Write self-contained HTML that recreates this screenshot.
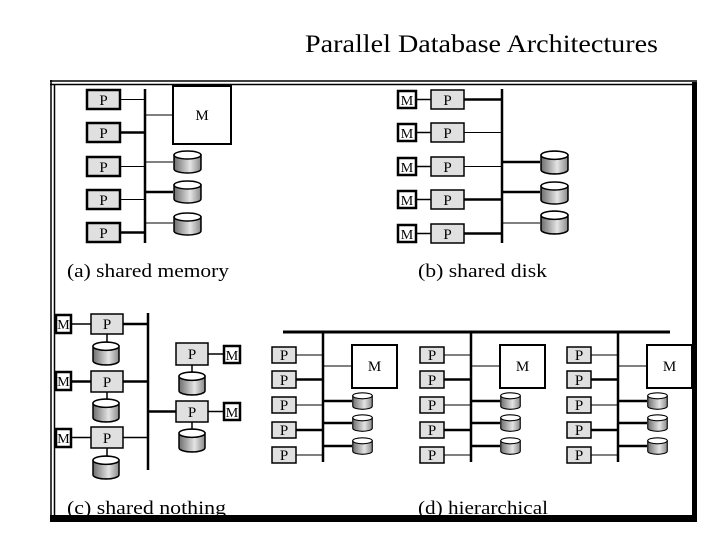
<!DOCTYPE html>
<html><head><meta charset="utf-8"><style>
html,body{margin:0;padding:0;background:#fff;}
svg{display:block;}
text{font-family:"Liberation Serif",serif;}
</style></head><body>
<svg width="720" height="540" viewBox="0 0 720 540" xmlns="http://www.w3.org/2000/svg">
<defs>
<linearGradient id="g" x1="0" x2="1" y1="0" y2="0">
<stop offset="0" stop-color="#6e6e6e"/><stop offset="0.6" stop-color="#e4e4e4"/><stop offset="1" stop-color="#8a8a8a"/>
</linearGradient>
<symbol id="cyl" viewBox="0 0 28 24" preserveAspectRatio="none">
<path d="M1,5 V19 A13,4 0 0 0 27,19 V5 Z" fill="url(#g)" stroke="#000" stroke-width="1.5"/>
<ellipse cx="14" cy="5" rx="13" ry="4" fill="#fff" stroke="#000" stroke-width="1.5"/>
</symbol>
</defs>
<text x="305" y="52" font-size="25" textLength="353" lengthAdjust="spacingAndGlyphs">Parallel Database Architectures</text>
<!-- frame -->
<g stroke="#000" fill="none">
<line x1="50" y1="81" x2="697" y2="81" stroke-width="1.5"/>
<line x1="50" y1="84.5" x2="697" y2="84.5" stroke-width="1.5"/>
<line x1="51" y1="80" x2="51" y2="522" stroke-width="1.5"/>
<line x1="54.5" y1="84" x2="54.5" y2="516" stroke-width="1.5"/>
</g>
<rect x="50" y="515" width="647" height="7" fill="#000"/>

<g stroke="#000" font-size="15" text-anchor="middle">
<!-- (a) -->
<line x1="145" y1="89" x2="145" y2="243" stroke-width="2.5"/>
<g fill="#e0e0e0" stroke-width="2.5">
<rect x="87" y="90" width="33" height="19"/><rect x="87" y="123" width="33" height="19"/><rect x="87" y="157" width="33" height="19"/><rect x="87" y="190" width="33" height="19"/><rect x="87" y="223" width="33" height="19"/>
</g>
<line x1="120" y1="99.5" x2="145" y2="99.5" stroke-width="1"/>
<line x1="120" y1="132.5" x2="145" y2="132.5" stroke-width="2.5"/>
<line x1="120" y1="166.5" x2="145" y2="166.5" stroke-width="1"/>
<line x1="120" y1="199.5" x2="145" y2="199.5" stroke-width="1"/>
<line x1="120" y1="232.5" x2="145" y2="232.5" stroke-width="2.5"/>
<rect x="173" y="86" width="58" height="58" fill="#fff" stroke-width="2"/>
<line x1="145" y1="115" x2="173" y2="115" stroke-width="1"/>
<line x1="145" y1="162" x2="173" y2="162" stroke-width="1"/>
<line x1="145" y1="192" x2="173" y2="192" stroke-width="2.5"/>
<line x1="145" y1="223" x2="173" y2="223" stroke-width="1"/>
<use href="#cyl" x="173" y="150" width="29" height="24"/>
<use href="#cyl" x="173" y="180" width="29" height="24"/>
<use href="#cyl" x="173" y="212" width="29" height="24"/>
<g stroke="none" fill="#000">
<text x="103.5" y="105">P</text><text x="103.5" y="138">P</text><text x="103.5" y="172">P</text><text x="103.5" y="205">P</text><text x="103.5" y="238">P</text>
<text x="202" y="120">M</text>
</g>

<!-- (b) -->
<line x1="502" y1="89" x2="502" y2="243" stroke-width="2.5"/>
<g fill="#fff" stroke-width="2.5">
<rect x="398" y="91" width="18" height="17"/><rect x="398" y="124" width="18" height="17"/><rect x="398" y="158" width="18" height="17"/><rect x="398" y="191" width="18" height="17"/><rect x="398" y="225" width="18" height="17"/>
</g>
<g stroke-width="1.5">
<line x1="416" y1="99.5" x2="431" y2="99.5"/><line x1="416" y1="132.5" x2="431" y2="132.5"/><line x1="416" y1="166.5" x2="431" y2="166.5"/><line x1="416" y1="199.5" x2="431" y2="199.5"/><line x1="416" y1="233.5" x2="431" y2="233.5"/>
</g>
<g fill="#e0e0e0" stroke-width="1.5">
<rect x="431" y="90" width="33" height="19"/><rect x="431" y="123" width="33" height="19"/><rect x="431" y="157" width="33" height="19"/><rect x="431" y="190" width="33" height="19"/><rect x="431" y="224" width="33" height="19"/>
</g>
<line x1="464" y1="99.5" x2="502" y2="99.5" stroke-width="2.5"/>
<line x1="464" y1="132.5" x2="502" y2="132.5" stroke-width="1"/>
<line x1="464" y1="166.5" x2="502" y2="166.5" stroke-width="1"/>
<line x1="464" y1="199.5" x2="502" y2="199.5" stroke-width="2.5"/>
<line x1="464" y1="233.5" x2="502" y2="233.5" stroke-width="2.5"/>
<line x1="502" y1="162" x2="540" y2="162" stroke-width="2.5"/>
<line x1="502" y1="192" x2="540" y2="192" stroke-width="2.5"/>
<line x1="502" y1="223" x2="540" y2="223" stroke-width="1"/>
<use href="#cyl" x="540" y="150" width="29" height="25"/>
<use href="#cyl" x="540" y="181" width="29" height="24"/>
<use href="#cyl" x="540" y="210" width="29" height="25"/>
<g stroke="none" fill="#000">
<text x="407" y="105" font-size="14">M</text><text x="407" y="138" font-size="14">M</text><text x="407" y="172" font-size="14">M</text><text x="407" y="205" font-size="14">M</text><text x="407" y="239" font-size="14">M</text>
<text x="447.5" y="105">P</text><text x="447.5" y="138">P</text><text x="447.5" y="172">P</text><text x="447.5" y="205">P</text><text x="447.5" y="239">P</text>
</g>

<!-- (c) -->
<line x1="148" y1="313" x2="148" y2="470" stroke-width="2.5"/>
<g stroke-width="1.5">
<line x1="71" y1="324" x2="91" y2="324"/><line x1="71" y1="381.5" x2="91" y2="381.5" stroke-width="2.5"/><line x1="71" y1="437.5" x2="91" y2="437.5"/>
<line x1="107" y1="334" x2="107" y2="343"/><line x1="107" y1="392" x2="107" y2="400"/><line x1="107" y1="448" x2="107" y2="457"/>
<line x1="192" y1="365" x2="192" y2="373"/><line x1="192" y1="422" x2="192" y2="430"/>
<line x1="208" y1="354" x2="224" y2="354"/><line x1="208" y1="411.5" x2="224" y2="411.5"/>
</g>
<line x1="123" y1="324" x2="148" y2="324" stroke-width="2.5"/>
<line x1="123" y1="381.5" x2="148" y2="381.5" stroke-width="2.5"/>
<line x1="123" y1="437.5" x2="148" y2="437.5" stroke-width="1.5"/>
<line x1="148" y1="411.5" x2="176" y2="411.5" stroke-width="2.5"/>
<g fill="#fff" stroke-width="2.5">
<rect x="56" y="315" width="15" height="18"/><rect x="56" y="372" width="15" height="18"/><rect x="56" y="429" width="15" height="18"/>
<rect x="224" y="346" width="16" height="17"/><rect x="224" y="403" width="16" height="17"/>
</g>
<g fill="#e0e0e0" stroke-width="1.5">
<rect x="91" y="314" width="32" height="20"/><rect x="91" y="371" width="32" height="21"/><rect x="91" y="427" width="32" height="21"/>
<rect x="176" y="343" width="32" height="22"/><rect x="176" y="401" width="32" height="21"/>
</g>
<use href="#cyl" x="92" y="341" width="28" height="25"/>
<use href="#cyl" x="92" y="398" width="28" height="25"/>
<use href="#cyl" x="92" y="455" width="28" height="25"/>
<use href="#cyl" x="178" y="371" width="28" height="25"/>
<use href="#cyl" x="178" y="428" width="28" height="25"/>
<g stroke="none" fill="#000">
<text x="63.5" y="329" font-size="14">M</text><text x="63.5" y="386" font-size="14">M</text><text x="63.5" y="443" font-size="14">M</text>
<text x="232" y="360" font-size="14">M</text><text x="232" y="417" font-size="14">M</text>
<text x="107" y="329">P</text><text x="107" y="387">P</text><text x="107" y="443">P</text>
<text x="192" y="359">P</text><text x="192" y="417">P</text>
</g>

<!-- (d) -->
<line x1="283" y1="332" x2="670" y2="332" stroke-width="3"/>
<g id="grp">
<line x1="323" y1="332" x2="323" y2="462" stroke-width="2.5"/>
<g fill="#e0e0e0" stroke-width="1.5">
<rect x="272" y="347" width="24" height="16"/><rect x="272" y="371" width="24" height="17"/><rect x="272" y="397" width="24" height="16"/><rect x="272" y="422" width="24" height="16"/><rect x="272" y="447" width="24" height="16"/>
</g>
<line x1="296" y1="355" x2="323" y2="355" stroke-width="1"/>
<line x1="296" y1="379.5" x2="323" y2="379.5" stroke-width="2.5"/>
<line x1="296" y1="405" x2="323" y2="405" stroke-width="1"/>
<line x1="296" y1="430" x2="323" y2="430" stroke-width="2.5"/>
<line x1="296" y1="455" x2="323" y2="455" stroke-width="1"/>
<rect x="352" y="345" width="45" height="43" fill="#fff" stroke-width="2"/>
<line x1="323" y1="366" x2="352" y2="366" stroke-width="1"/>
<line x1="323" y1="401" x2="352" y2="401" stroke-width="2.5"/>
<line x1="323" y1="423" x2="352" y2="423" stroke-width="2.5"/>
<line x1="323" y1="446" x2="352" y2="446" stroke-width="2.5"/>
<use href="#cyl" x="352" y="392" width="21" height="18"/>
<use href="#cyl" x="352" y="414" width="21" height="18"/>
<use href="#cyl" x="352" y="437" width="21" height="18"/>
<g stroke="none" fill="#000">
<text x="284" y="360">P</text><text x="284" y="385">P</text><text x="284" y="410">P</text><text x="284" y="435">P</text><text x="284" y="460">P</text>
<text x="374.5" y="371">M</text>
</g>
</g>
<use href="#grp" x="148"/>
<use href="#grp" x="295"/>
</g>
<rect x="692" y="82" width="5" height="440" fill="#000"/>

<g font-size="19" fill="#000">
<text x="67" y="277" textLength="162" lengthAdjust="spacingAndGlyphs">(a) shared memory</text>
<text x="418" y="277" textLength="129" lengthAdjust="spacingAndGlyphs">(b) shared disk</text>
<text x="67" y="514" textLength="159" lengthAdjust="spacingAndGlyphs">(c) shared nothing</text>
<text x="418" y="514" textLength="130" lengthAdjust="spacingAndGlyphs">(d) hierarchical</text>
</g>
</svg>
</body></html>
